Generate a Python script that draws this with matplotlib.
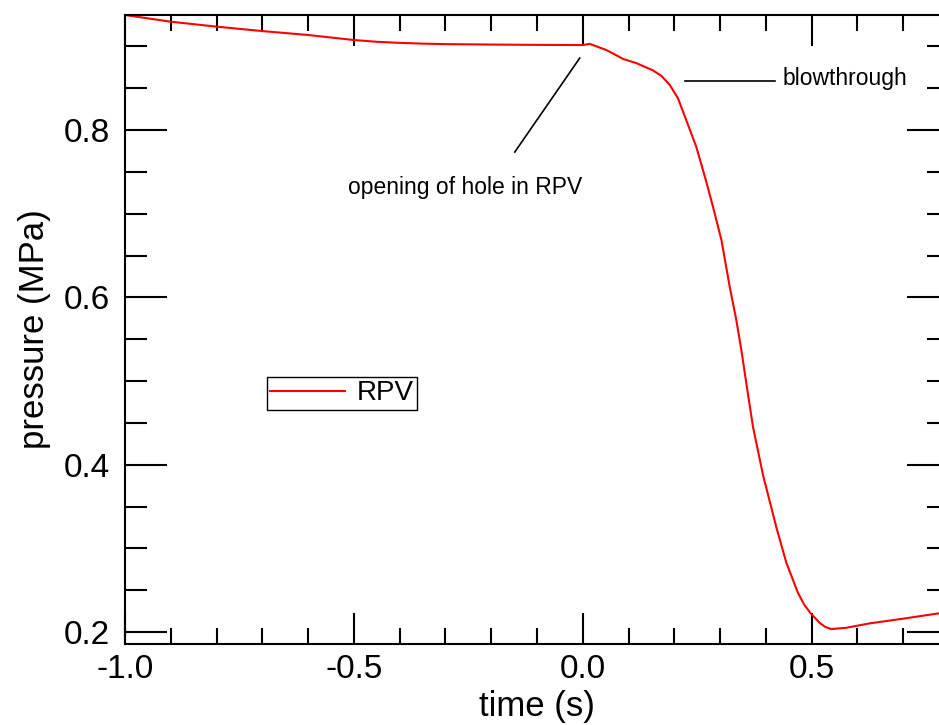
import matplotlib
matplotlib.use("Agg")
from matplotlib import pyplot as plt
from matplotlib.ticker import MultipleLocator, FormatStrFormatter

plt.rcParams["font.family"] = ["Liberation Sans", "DejaVu Sans"]

# RPV pressure vs time
time_s = [-1.0, -0.9, -0.8, -0.7, -0.6, -0.5, -0.45, -0.4, -0.35, -0.3, -0.2,
          -0.1, 0.0, 0.0153, 0.0335, 0.0517, 0.0699, 0.088, 0.117, 0.1535,
          0.172, 0.19, 0.208, 0.226, 0.248, 0.270, 0.2846, 0.303, 0.321,
          0.3355, 0.3465, 0.3574, 0.372, 0.3937, 0.423, 0.4447, 0.470, 0.4835,
          0.497, 0.5175, 0.530, 0.543, 0.5756, 0.627, 0.70, 0.777, 0.8]
pressure_mpa = [0.9375, 0.9295, 0.9236, 0.9183, 0.9136, 0.9076, 0.9055, 0.9042,
                0.9033, 0.9027, 0.9022, 0.9018, 0.9016, 0.9030, 0.8993, 0.8956,
                0.8904, 0.8850, 0.8800, 0.8713, 0.8647, 0.8540, 0.8380, 0.8120,
                0.7800, 0.7380, 0.7080, 0.6685, 0.6127, 0.5729, 0.5370, 0.4970,
                0.4450, 0.3880, 0.3250, 0.2830, 0.2470, 0.2330, 0.2230, 0.2110,
                0.2060, 0.2036, 0.2051, 0.2104, 0.2160, 0.2223, 0.2240]

hole_text_xy = (-0.2576, 0.7319)
hole_line = ([-0.1485, -0.0066], [0.7737, 0.886])
blow_text_xy = (0.4367, 0.862)
blow_line = ([0.2227, 0.4192], [0.8586, 0.8586])

fig = plt.figure(figsize=(9.39, 7.25), dpi=100)
ax = fig.add_axes([0.1331, 0.1117, 0.8775, 0.8676])

ax.plot(time_s, pressure_mpa, color="#ff0000", linewidth=1.5, label="RPV")

# annotations
ax.plot(*hole_line, color="k", linewidth=1.2)
ax.text(*hole_text_xy, "opening of hole in RPV", fontsize=16.5, ha="center", va="center")
ax.plot(*blow_line, color="k", linewidth=1.2)
ax.text(*blow_text_xy, "blowthrough", fontsize=16.5, ha="left", va="center")

ax.set_xlim(-1.0, 0.8)
ax.set_ylim(0.1857, 0.9375)
ax.xaxis.set_major_locator(MultipleLocator(0.5))
ax.xaxis.set_minor_locator(MultipleLocator(0.1))
ax.yaxis.set_major_locator(MultipleLocator(0.2))
ax.yaxis.set_minor_locator(MultipleLocator(0.05))
ax.xaxis.set_major_formatter(FormatStrFormatter("%.1f"))
ax.yaxis.set_major_formatter(FormatStrFormatter("%.1f"))

ax.tick_params(axis="both", which="both", direction="in", top=True, right=True,
               width=1.5, labelsize=24)
ax.tick_params(axis="x", which="major", length=22, pad=7)
ax.tick_params(axis="x", which="minor", length=11.5)
ax.tick_params(axis="y", which="major", length=30, pad=11)
ax.tick_params(axis="y", which="minor", length=16)
for sp in ax.spines.values():
    sp.set_linewidth(1.5)

ax.set_xlabel("time (s)", fontsize=25, labelpad=4)
ax.set_ylabel("pressure (MPa)", fontsize=25, labelpad=9)

leg = ax.legend(loc="upper left", bbox_to_anchor=(0.1723, 0.4245), fontsize=20,
                fancybox=False, framealpha=1, edgecolor="k", borderaxespad=0,
                handlelength=2.7, handletextpad=0.4, borderpad=0.12)
leg.get_frame().set_linewidth(1.0)

fig.savefig("out.png", dpi=100)
